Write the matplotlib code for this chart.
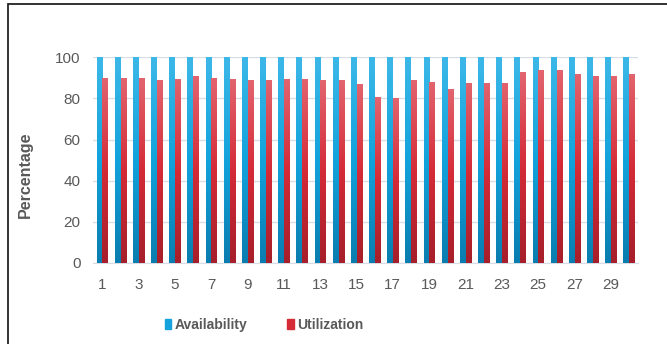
import numpy as np
import matplotlib
matplotlib.use("Agg")
import matplotlib.pyplot as plt
from matplotlib.patches import Rectangle
from matplotlib.colors import LinearSegmentedColormap

days = list(range(1, 31))
availability = [100] * 30
utilization = [90.1, 90.0, 90.0, 88.8, 89.5, 90.9, 90.0, 89.5, 88.8, 88.8,
               89.5, 89.5, 88.8, 88.8, 87.0, 80.6, 80.1, 88.8, 88.2, 84.5,
               87.7, 87.7, 87.7, 92.7, 94.0, 94.0, 92.0, 90.8, 90.8, 92.0]
xtick_labels = [str(d) for d in days[::2]]
series_names = ["Availability", "Utilization"]

plt.rcParams['font.family'] = ['Liberation Sans', 'DejaVu Sans']
txt = '#595959'

fig = plt.figure(figsize=(6.67, 3.44), dpi=100)
fig.patches.append(Rectangle((7.5 / 667, -0.1), 1.2, 1 - 3.5 / 344 + 0.1,
                             transform=fig.transFigure, fill=False,
                             edgecolor='#222222', lw=1.3, zorder=10))
ax = fig.add_axes([93 / 667, 1 - 263 / 344, (638 - 93) / 667, (263 - 57.3) / 344])

x = np.arange(len(days))
w = 0.29
blue_cmap = LinearSegmentedColormap.from_list('b', ['#0a7db0', '#12a3dc', '#3cb8e8'])
red_cmap = LinearSegmentedColormap.from_list('r', ['#a61f2a', '#d42b37', '#e2646e'])

b1 = ax.bar(x - 0.16, availability, w, color='#14a3dc', zorder=2)
b2 = ax.bar(x + 0.16, utilization, w, color='#d42b37', zorder=2)

grad = np.linspace(0, 1, 100).reshape(-1, 1)
for bars, cmap in ((b1, blue_cmap), (b2, red_cmap)):
    for p in bars:
        x0, y0 = p.get_x(), p.get_y()
        im = ax.imshow(grad, cmap=cmap, origin='lower', aspect='auto',
                       extent=(x0, x0 + p.get_width(), y0, y0 + p.get_height()),
                       zorder=3)
        im.set_clip_path(p)

ax.set_xlim(-0.5, len(days) - 0.5)
ax.set_ylim(0, 100)
ax.set_yticks(range(0, 101, 20))
ax.set_xticks(x[::2])
ax.set_xticklabels(xtick_labels)
ax.grid(axis='y', color='#d9dde5', lw=1, zorder=0)
ax.set_axisbelow(True)
for s in ['top', 'right', 'left']:
    ax.spines[s].set_visible(False)
ax.spines['bottom'].set_color('#d9dde5')
ax.tick_params(axis='both', length=0, labelsize=11, colors=txt)
ax.tick_params(axis='y', pad=9)
ax.tick_params(axis='x', pad=11)
ax.set_ylabel('Percentage', fontsize=11.5, fontweight='bold', color=txt)
ax.yaxis.set_label_coords((33 - 93) / 545, (263 - 175) / 205.7)

handles = [Rectangle((0, 0), 1, 1, color='#14a3dc'), Rectangle((0, 0), 1, 1, color='#d42b37')]
leg = fig.legend(handles, series_names, loc='center', bbox_to_anchor=(264 / 667, 1 - 325 / 344),
                 ncol=2, frameon=False, handlelength=0.45, handleheight=0.65,
                 handletextpad=0.25, columnspacing=2.9,
                 prop={'size': 10, 'weight': 'bold'})
for t in leg.get_texts():
    t.set_color(txt)

fig.savefig('out.png', dpi=100)
